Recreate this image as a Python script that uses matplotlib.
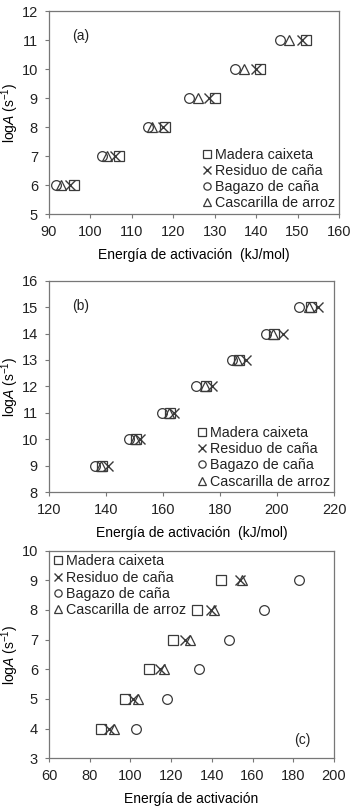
import numpy as np
import matplotlib
matplotlib.use('Agg')
import matplotlib.pyplot as plt

matplotlib.rcParams['font.family'] = 'Liberation Sans'
matplotlib.rcParams['mathtext.fontset'] = 'custom'
matplotlib.rcParams['mathtext.rm'] = 'Liberation Sans'
matplotlib.rcParams['mathtext.it'] = 'Liberation Sans:italic'
matplotlib.rcParams['xtick.labelsize'] = 10.5
matplotlib.rcParams['ytick.labelsize'] = 10.5
matplotlib.rcParams['axes.labelsize'] = 10
matplotlib.rcParams['legend.fontsize'] = 10.3
matplotlib.rcParams['text.color'] = '#222222'
matplotlib.rcParams['xtick.labelcolor'] = '#222222'
matplotlib.rcParams['ytick.labelcolor'] = '#222222'

names = ['Madera caixeta', 'Residuo de caña', 'Bagazo de caña', 'Cascarilla de arroz']
markers = ['s', 'x', 'o', '^']

# (a)
logA_a = [6, 7, 8, 9, 10, 11]
Ea_a = {
    'Madera caixeta':      [96, 107, 118, 130, 141, 152],
    'Residuo de caña':     [95, 106, 117.6, 128.7, 140, 151],
    'Bagazo de caña':      [91.6, 102.7, 113.8, 123.8, 134.8, 145.8],
    'Cascarilla de arroz': [93, 104, 114.8, 126, 137, 148],
}
# (b)
logA_b = [9, 10, 11, 12, 13, 14, 15]
Ea_b = {
    'Madera caixeta':      [138.7, 150.4, 162.4, 175, 186.7, 199, 212],
    'Residuo de caña':     [140.7, 152, 164, 177.2, 189.2, 202, 214.4],
    'Bagazo de caña':      [136, 148, 159.6, 171.7, 184.2, 196, 207.7],
    'Cascarilla de arroz': [138.4, 150, 162, 174.6, 186, 198.6, 211.2],
}
# (c)
logA_c = [4, 5, 6, 7, 8, 9]
Ea_c = {
    'Madera caixeta':      [85.7, 97.3, 109, 120.7, 132.9, 144.7],
    'Residuo de caña':     [89.5, 101.2, 114.4, 127, 139.7, 153.7],
    'Bagazo de caña':      [102.6, 118, 133.5, 148.4, 165.5, 182.6],
    'Cascarilla de arroz': [91.8, 103.7, 116.5, 129.4, 141, 154.8],
}

col = '#3a3a3a'


def panel(ax, Ea, logA, xlim, ylim, xlabel, tag, tagpos, legloc, legpos):
    for n, m in zip(names, markers):
        if m == 'x':
            ax.plot(Ea[n], logA, ls='none', marker=m, ms=7, mew=1.0, color=col, label=n)
        else:
            ax.plot(Ea[n], logA, ls='none', marker=m, ms=7, mew=0.9, mfc='none', mec=col, label=n)
    ax.set_xlim(xlim)
    ax.set_ylim(ylim)
    ax.set_xticks(np.arange(xlim[0], xlim[1] + 1, 20 if xlim[1] - xlim[0] > 80 else 10))
    ax.set_yticks(np.arange(ylim[0], ylim[1] + 1, 1))
    ax.tick_params(direction='out', length=3, width=0.8, color='#777777')
    ax.tick_params(axis='x', pad=5)
    ax.tick_params(axis='y', pad=5)
    for s in ax.spines.values():
        s.set_color('#777777')
        s.set_linewidth(0.9)
    ax.set_xlabel(xlabel, labelpad=6)
    ax.set_ylabel(r'log$A$ (s$^{\mathregular{-1}}$)')
    w = ax.get_position().width * 358
    ax.yaxis.set_label_coords(-28.0 / w, 0.5)
    ax.text(tagpos[0], tagpos[1], tag, transform=ax.transAxes, fontsize=10)
    ax.legend(loc=legloc, bbox_to_anchor=legpos, frameon=False, handletextpad=0.0,
              labelspacing=0.15, borderpad=0.2, handlelength=1.1, markerscale=0.75)


fig = plt.figure(figsize=(3.58, 8.11), dpi=100)
ax1 = fig.add_axes([0.137, 0.736, 0.810, 0.250])
ax2 = fig.add_axes([0.137, 0.393, 0.796, 0.261])
ax3 = fig.add_axes([0.137, 0.065, 0.796, 0.256])

panel(ax1, Ea_a, logA_a, (90, 160), (5, 12), 'Energía de activación  (kJ/mol)',
      '(a)', (0.08, 0.86), 'lower right', (1.02, -0.03))
panel(ax2, Ea_b, logA_b, (120, 220), (8, 16), 'Energía de activación  (kJ/mol)',
      '(b)', (0.08, 0.86), 'lower right', (1.02, -0.03))
panel(ax3, Ea_c, logA_c, (60, 200), (3, 10), 'Energía de activación',
      '(c)', (0.86, 0.07), 'upper left', (-0.03, 1.03))

fig.savefig('out.png', dpi=100)
